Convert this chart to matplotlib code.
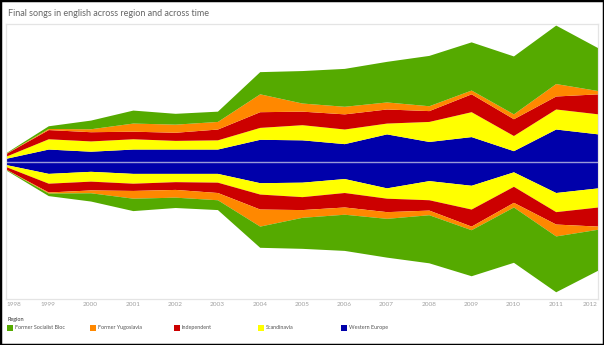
import matplotlib.pyplot as plt
from matplotlib.patches import Rectangle
import numpy as np

plt.rcParams['font.family'] = ['Lato', 'DejaVu Sans']

# data (rough "songs" units)
years = list(range(1998, 2013))
regions = ['Former Socialist Bloc', 'Former Yugoslavia', 'Independent', 'Scandinavia', 'Western Europe']
colors = ['#55aa00', '#ff8800', '#cc0000', '#ffff00', '#0000aa']

western = [0.6, 2.3, 1.9, 2.3, 2.3, 2.3, 4.1, 4.0, 3.3, 5.1, 3.7, 4.6, 2.0, 6.0, 5.1]
scandinavia = [0.4, 1.9, 1.9, 1.9, 1.6, 1.7, 2.2, 2.8, 2.7, 2.0, 3.7, 4.6, 2.8, 3.7, 3.7]
independent = [0.5, 1.7, 1.7, 1.4, 1.5, 2.0, 2.9, 2.5, 2.8, 2.6, 2.0, 3.3, 3.1, 2.4, 3.7]
yugoslavia = [0.05, 0.2, 0.55, 1.5, 1.5, 1.4, 3.3, 1.5, 1.4, 1.3, 0.9, 0.7, 0.9, 2.3, 0.6]
socialist = [0.1, 0.5, 1.6, 2.4, 2.0, 1.9, 4.1, 6.0, 7.0, 7.5, 9.3, 8.9, 10.7, 10.8, 7.9]

# stack order from the centre outwards
layers = [western, scandinavia, independent, yugoslavia, socialist]
layer_colors = colors[::-1]

W, H = 604, 345
fig = plt.figure(figsize=(W / 100, H / 100), dpi=100)
ax = fig.add_axes([6 / W, 46 / H, 592 / W, 275 / H])
ax2 = ax.twinx()  # bottom half, its own axis (like a dual axis)

x = np.array(years)
base = np.zeros(len(years))
for vals, c in zip(layers, layer_colors):
    top = base + np.array(vals)
    ax.fill_between(x, base, top, color=c, lw=0)
    ax2.fill_between(x, -base, -top, color=c, lw=0)
    base = top

ax.set_ylim(-25.4, 25.4)
ax2.set_ylim(-26.6, 26.6)
ax.set_xlim(1998, 2012)
ax2.axhline(0, color='#9a9ad8', lw=1)

for a in (ax, ax2):
    a.set_yticks([])
    for s in a.spines.values():
        s.set_color('#e4e4e4')
        s.set_linewidth(0.8)

ax.set_xticks(years)
lbls = ax.set_xticklabels([str(y) for y in years], fontsize=4.6, color='#a0a0a0')
lbls[0].set_ha('left')
lbls[-1].set_ha('right')
ax.tick_params(axis='x', length=0, pad=2.2)

fig.text(8 / W, 1 - 14 / H, 'Final songs in english across region and across time',
         fontsize=6.5, color='#666666', va='center', ha='left')

# legend
fig.text(7 / W, 1 - 320 / H, 'Region', fontsize=4, color='#333333', va='center')
for i, (name, c) in enumerate(zip(regions, colors)):
    lx = 7 + i * 83.5
    fig.patches.append(Rectangle((lx / W, 1 - 330.5 / H), 6 / W, 5.5 / H,
                                 transform=fig.transFigure, color=c, lw=0))
    fig.text((lx + 8) / W, 1 - 327.8 / H, name, fontsize=3.9, color='#555555', va='center')

fig.patches.append(Rectangle((0, 0), 1, 1, transform=fig.transFigure,
                             fill=False, ec='black', lw=2.5))

fig.savefig('out.png', dpi=100)
